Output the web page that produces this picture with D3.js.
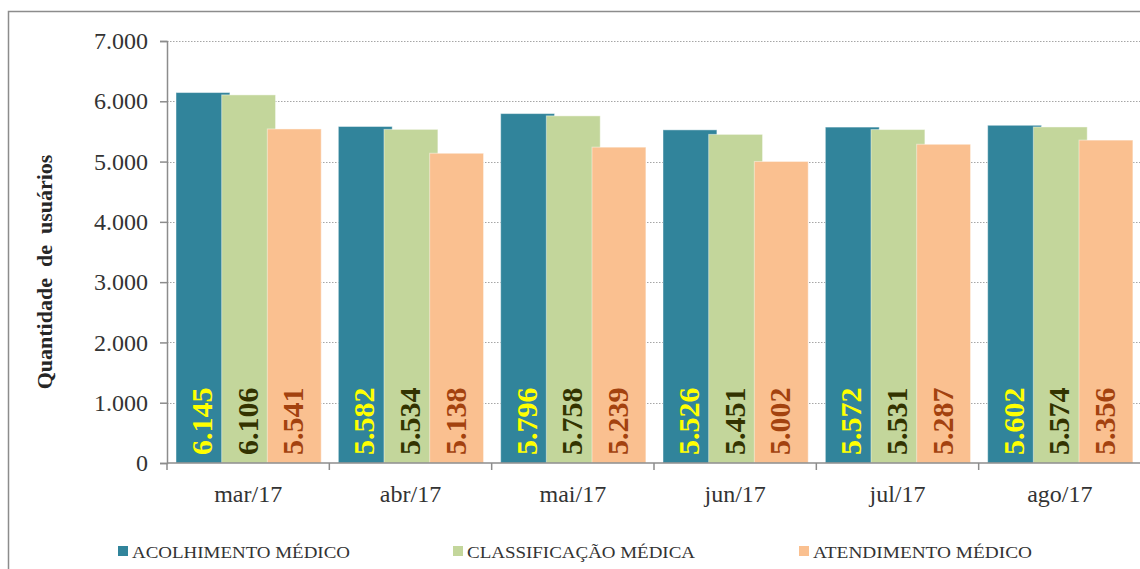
<!DOCTYPE html>
<html>
<head>
<meta charset="utf-8">
<script src="https://cdn.jsdelivr.net/npm/d3@7"></script>
<style>
  body { margin: 0; background: #fff; }
  text { font-family: "Liberation Serif", "Times New Roman", serif; }
</style>
</head>
<body>
<div id="chart"></div>
<script>
// months on the x axis
var months = ['mar/17', 'abr/17', 'mai/17', 'jun/17', 'jul/17', 'ago/17']
var seriesNames = ['ACOLHIMENTO MÉDICO', 'CLASSIFICAÇÃO MÉDICA', 'ATENDIMENTO MÉDICO']
var acolhimento = [6145, 5582, 5796, 5526, 5572, 5602]
var classificacao = [6106, 5534, 5758, 5451, 5531, 5574]
var atendimento = [5541, 5138, 5239, 5002, 5287, 5356]
var yTicks = [0, 1000, 2000, 3000, 4000, 5000, 6000, 7000]

var colors = ['#31849b', '#c3d69b', '#fac090']
var labelColors = ['#ffff00', '#333300', '#a3420f']

var width = 1140, height = 569
var margin = { left: 167, right: -1, top: 41, bottom: 106 }
var innerW = width - margin.left - margin.right
var innerH = height - margin.top - margin.bottom

var svg = d3.select('#chart').append('svg')
  .attr('width', width).attr('height', height)

// outer frame (cut off on the right and bottom like the original)
svg.append('rect')
  .attr('x', 8.5).attr('y', 11.5)
  .attr('width', 1200).attr('height', 600)
  .attr('fill', 'none').attr('stroke', '#8c8c8c').attr('stroke-width', 1.5)

var g = svg.append('g').attr('transform', `translate(${margin.left},${margin.top})`)

var x = d3.scaleBand().domain(months).range([0, innerW])
var xInner = d3.scaleBand().domain(seriesNames).range([9, 146])
var barW = xInner.bandwidth() * 1.18
var y = d3.scaleLinear().domain([0, 7000]).range([innerH, 0])

var locale = d3.formatLocale({ decimal: ',', thousands: '.', grouping: [3], currency: ['', ''] })
var fmt = locale.format(',d')

// dotted gridlines
g.append('g').selectAll('line')
  .data(yTicks.filter(d => d > 0))
  .join('line')
  .attr('x1', 0).attr('x2', innerW)
  .attr('y1', d => Math.round(y(d)) + 0.5).attr('y2', d => Math.round(y(d)) + 0.5)
  .attr('stroke', '#a6a6a6').attr('stroke-dasharray', '1.5,1.5')

var data = months.map((m, i) => ({
  month: m,
  values: [acolhimento[i], classificacao[i], atendimento[i]]
}))

// bars, drawn series by series so later ones overlap earlier
seriesNames.forEach(function(s, si) {
  var bars = g.append('g')
  bars.selectAll('rect')
    .data(data)
    .join('rect')
    .attr('x', d => x(d.month) + xInner(s))
    .attr('y', d => y(d.values[si]))
    .attr('width', barW)
    .attr('height', d => innerH - y(d.values[si]))
    .attr('fill', colors[si])
    .attr('stroke', '#fff').attr('stroke-opacity', 0.45)

  bars.selectAll('text')
    .data(data)
    .join('text')
    .attr('transform', d => `translate(${x(d.month) + xInner(s) + barW / 2 - 1.5},${innerH - 8}) rotate(-90)`)
    .attr('dy', '0.35em')
    .attr('font-size', 30)
    .attr('font-weight', 'bold')
    .attr('fill', labelColors[si])
    .text(d => fmt(d.values[si]))
})

// y axis
var yAxis = d3.axisLeft(y).tickValues(yTicks).tickFormat(fmt).tickSize(7).tickPadding(12)
var ya = g.append('g').call(yAxis)
ya.select('.domain').attr('stroke', '#8c8c8c').attr('stroke-width', 1.5)
ya.selectAll('.tick line').attr('stroke', '#8c8c8c').attr('stroke-width', 1.5)
ya.selectAll('.tick text').attr('font-size', 24).attr('fill', '#333')
  .style('font-family', '"Liberation Serif", serif')

// x axis with ticks at category boundaries
g.append('line')
  .attr('x1', 0).attr('x2', innerW).attr('y1', innerH).attr('y2', innerH)
  .attr('stroke', '#8c8c8c').attr('stroke-width', 1.5)
g.append('g').selectAll('line')
  .data(months.concat(['end']))
  .join('line')
  .attr('x1', (d, i) => i * x.step()).attr('x2', (d, i) => i * x.step())
  .attr('y1', innerH).attr('y2', innerH + 7)
  .attr('stroke', '#8c8c8c').attr('stroke-width', 1.5)
g.append('g').selectAll('text')
  .data(months)
  .join('text')
  .attr('x', d => x(d) + x.bandwidth() / 2)
  .attr('y', innerH + 39)
  .attr('text-anchor', 'middle')
  .attr('font-size', 24).attr('fill', '#333')
  .text(d => d)

// y axis title
svg.append('text')
  .attr('transform', 'translate(52,272) rotate(-90)')
  .attr('text-anchor', 'middle')
  .attr('font-size', 22).attr('font-weight', 'bold').attr('fill', '#262626')
  .attr('xml:space', 'preserve')
  .style('white-space', 'pre')
  .text('Quantidade  de  usuários')

// legend
var legendX = [118, 453, 799]
var legendW = [218, 228, 219]
var lg = svg.append('g')
seriesNames.forEach(function(s, i) {
  lg.append('rect')
    .attr('x', legendX[i]).attr('y', 546)
    .attr('width', 10).attr('height', 10)
    .attr('fill', colors[i])
  lg.append('text')
    .attr('x', legendX[i] + 14).attr('y', 557.5)
    .attr('font-size', 17).attr('fill', '#333')
    .attr('textLength', legendW[i]).attr('lengthAdjust', 'spacingAndGlyphs')
    .text(s)
})
</script>
</body>
</html>
